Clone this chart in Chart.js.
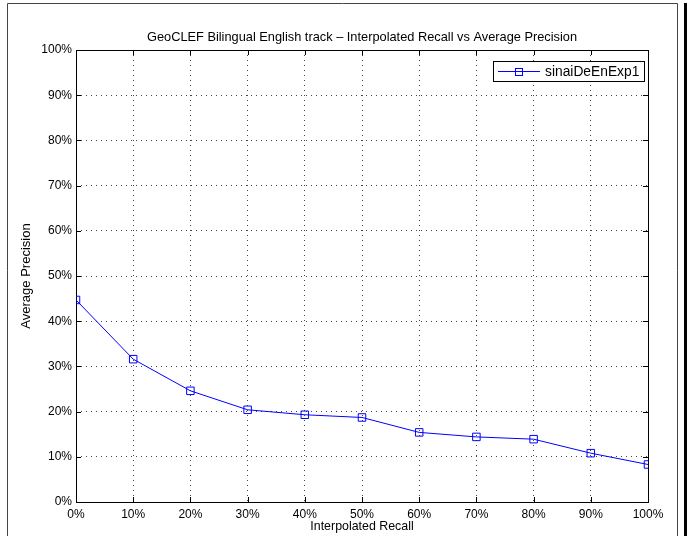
<!DOCTYPE html>
<html lang="en">
<head>
  <meta charset="UTF-8">
  <title>GeoCLEF Bilingual English track</title>
  <script src="https://cdn.jsdelivr.net/npm/chart.js"></script>
  <style>
    html, body { margin: 0; padding: 0; background: #fff; }
  </style>
</head>
<body>
  <canvas id="prChart" width="687" height="536"></canvas>

  <script>
    const recallLevels = [0, 10, 20, 30, 40, 50, 60, 70, 80, 90, 100];
    const precisionValues = [44.7, 31.6, 24.6, 20.4, 19.3, 18.7, 15.4, 14.4, 13.9, 10.8, 8.3];
    const seriesName = 'sinaiDeEnExp1';
    const chartTitle = 'GeoCLEF Bilingual English track \u2013 Interpolated Recall vs Average Precision';

    const FONT = 'Arial, "Liberation Sans", Helvetica, sans-serif';
    const BLUE = '#0000ff';

    // frame, inward tick marks, outer border, title and legend (matlab look)
    const matlabDecor = {
      id: 'matlabDecor',
      beforeDatasetsDraw(chart) {
        const { ctx, chartArea: a, scales } = chart;
        ctx.save();
        ctx.strokeStyle = '#000';
        ctx.lineWidth = 1;
        ctx.setLineDash([]);
        ctx.beginPath();
        const tl = 5;
        scales.x.ticks.forEach(t => {
          const px = Math.round(scales.x.getPixelForValue(t.value)) + 0.5;
          ctx.moveTo(px, a.bottom); ctx.lineTo(px, a.bottom - tl);
          ctx.moveTo(px, a.top); ctx.lineTo(px, a.top + tl);
        });
        scales.y.ticks.forEach(t => {
          const py = Math.round(scales.y.getPixelForValue(t.value)) + 0.5;
          ctx.moveTo(a.left, py); ctx.lineTo(a.left + tl, py);
          ctx.moveTo(a.right, py); ctx.lineTo(a.right - tl, py);
        });
        ctx.stroke();
        ctx.strokeRect(Math.round(a.left) + 0.5, Math.round(a.top) + 0.5,
          Math.round(a.right - a.left), Math.round(a.bottom - a.top));
        ctx.restore();
      },
      afterDraw(chart) {
        const { ctx, chartArea: a } = chart;
        ctx.save();
        // outer figure border
        ctx.strokeStyle = '#444';
        ctx.lineWidth = 1;
        ctx.beginPath();
        ctx.moveTo(7.5, 540); ctx.lineTo(7.5, 3.5); ctx.lineTo(677.5, 3.5); ctx.lineTo(677.5, 540);
        ctx.stroke();
        ctx.fillStyle = '#000';
        ctx.fillRect(684, 3, 3, 533);

        // title
        ctx.fillStyle = '#000';
        ctx.font = '12.8px ' + FONT;
        ctx.textAlign = 'center';
        ctx.textBaseline = 'middle';
        ctx.fillText(chartTitle, (a.left + a.right) / 2, 37);

        // legend
        const ds = chart.data.datasets[0];
        const bx = 493.5, by = 61.5, bw = 151, bh = 20;
        ctx.fillStyle = '#fff';
        ctx.fillRect(bx, by, bw, bh);
        ctx.strokeStyle = '#000';
        ctx.strokeRect(bx, by, bw, bh);
        ctx.strokeStyle = ds.borderColor;
        ctx.beginPath();
        ctx.moveTo(498, by + bh / 2); ctx.lineTo(540, by + bh / 2);
        ctx.stroke();
        ctx.strokeRect(515.5, by + bh / 2 - 3, 7, 7);
        ctx.fillStyle = '#000';
        ctx.font = '13.8px ' + FONT;
        ctx.textAlign = 'left';
        ctx.fillText(ds.label, 545, by + bh / 2 + 0.5);
        ctx.restore();
      }
    };

    const gridOpts = {
      color: '#444',
      lineWidth: 1,
      drawTicks: false
    };

    new Chart(document.getElementById('prChart'), {
      type: 'line',
      data: {
        labels: recallLevels,
        datasets: [{
          label: seriesName,
          data: recallLevels.map((r, i) => ({ x: r, y: precisionValues[i] })),
          borderColor: BLUE,
          backgroundColor: 'rgba(0,0,0,0)',
          borderWidth: 1,
          pointStyle: 'rect',
          pointRadius: 5.3,
          pointBorderColor: BLUE,
          pointBackgroundColor: 'rgba(0,0,0,0)',
          pointBorderWidth: 1,
          tension: 0
        }]
      },
      options: {
        responsive: false,
        animation: false,
        devicePixelRatio: 1,
        layout: { padding: { left: 13, right: 39, top: 50, bottom: 0 } },
        plugins: {
          legend: { display: false },
          title: { display: false },
          tooltip: { enabled: false }
        },
        scales: {
          x: {
            type: 'linear',
            min: 0,
            max: 100,
            afterFit: s => { s.height = 34; },
            ticks: {
              stepSize: 10,
              padding: 5,
              color: '#000',
              font: { family: FONT, size: 12 },
              callback: v => v + '%'
            },
            grid: gridOpts,
            border: { display: false, dash: [1, 4] },
            title: {
              display: true,
              text: 'Interpolated Recall',
              color: '#000',
              font: { family: FONT, size: 12.4 },
              padding: { top: 0, bottom: 2 }
            }
          },
          y: {
            min: 0,
            max: 100,
            afterFit: s => { s.width = 63; },
            ticks: {
              stepSize: 10,
              padding: 4,
              color: '#000',
              font: { family: FONT, size: 12 },
              callback: v => v + '%'
            },
            grid: gridOpts,
            border: { display: false, dash: [1, 4] },
            title: {
              display: true,
              text: 'Average Precision',
              color: '#000',
              font: { family: FONT, size: 13 },
              padding: { top: 6, bottom: 0 }
            }
          }
        }
      },
      plugins: [matlabDecor]
    });
  </script>
</body>
</html>
